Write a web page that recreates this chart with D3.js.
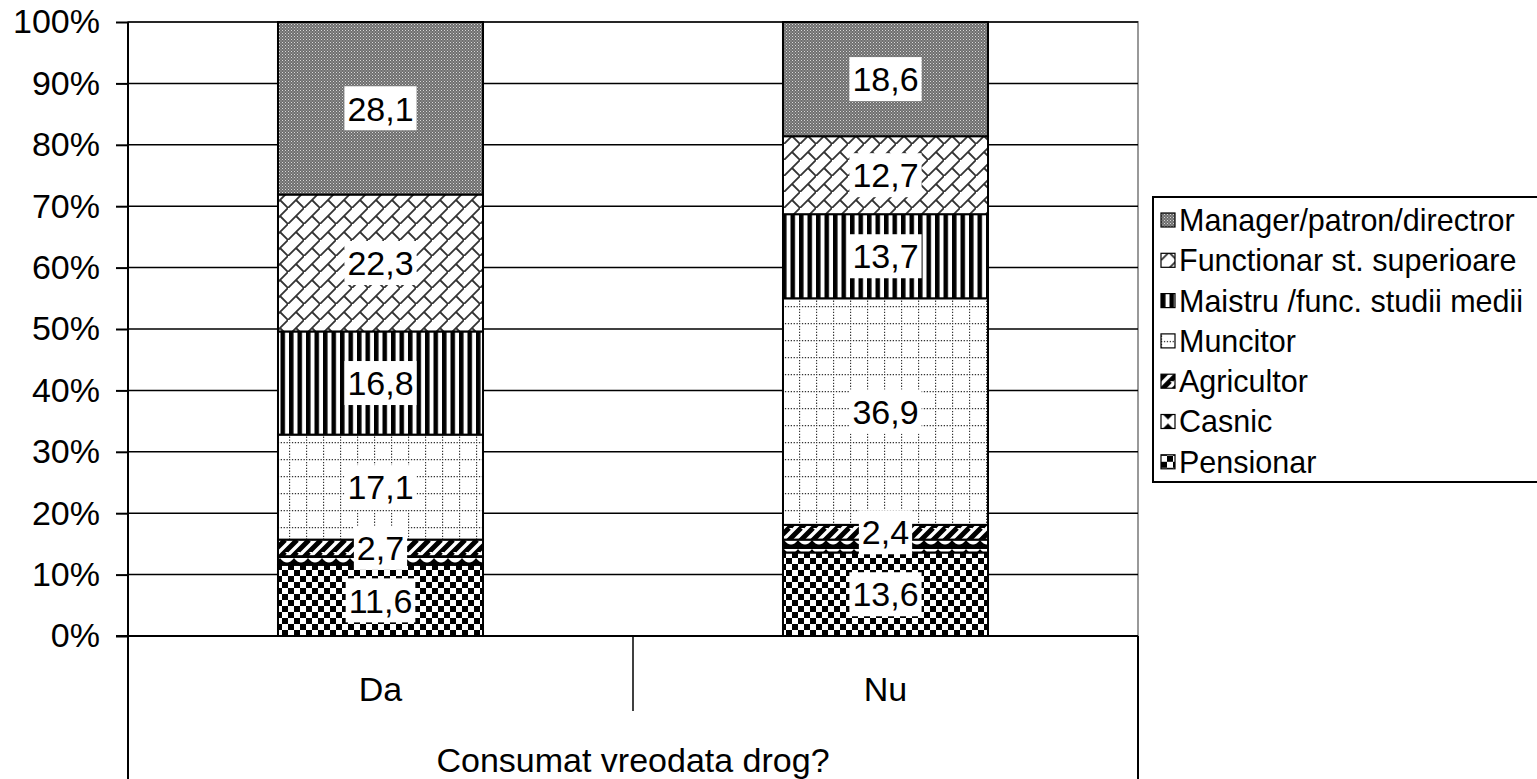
<!DOCTYPE html>
<html>
<head>
<meta charset="utf-8">
<script src="https://cdn.jsdelivr.net/npm/d3@7"></script>
<style>
  body { margin: 0; background: #fff; }
  text { font-family: "Liberation Sans", Arial, sans-serif; fill: #000; }
</style>
</head>
<body>
<svg width="1537" height="779"></svg>
<script>
// data
var categories = ["Da", "Nu"];
var seriesNames = ["Pensionar", "Casnic", "Agricultor", "Muncitor",
  "Maistru /func. studii medii", "Functionar st. superioare", "Manager/patron/directror"];
var pensionar = [11.6, 13.6];
var casnic = [1.4, 2.1];
var agricultor = [2.7, 2.4];
var muncitor = [17.1, 36.9];
var maistru = [16.8, 13.7];
var functionar = [22.3, 12.7];
var manager = [28.1, 18.6];
var yTicks = [0, 10, 20, 30, 40, 50, 60, 70, 80, 90, 100];
var axisTitle = "Consumat vreodata drog?";

var seriesValues = [pensionar, casnic, agricultor, muncitor, maistru, functionar, manager];
var showLabel = [true, false, true, true, true, true, true];

var rows = categories.map(function(c, i) {
  var r = {cat: c};
  seriesNames.forEach(function(s, j) { r[s] = seriesValues[j][i]; });
  return r;
});

var svg = d3.select("svg"),
    plot = {left: 128, right: 1138, top: 22, bottom: 636};

var x = d3.scaleBand().domain(categories)
    .range([plot.left, plot.right]).paddingInner(0.594).paddingOuter(0.297);
var y = d3.scaleLinear().domain([0, 100]).range([plot.bottom, plot.top]);

var stacked = d3.stack().keys(seriesNames)(rows);

// patterns
var defs = svg.append("defs");
function pat(id, w, h) {
  return defs.append("pattern").attr("id", id).attr("patternUnits", "userSpaceOnUse")
    .attr("width", w).attr("height", h);
}
// Pensionar - checkerboard
var p0 = pat("p0", 12, 12);
p0.append("rect").attr("width", 12).attr("height", 12).attr("fill", "#fff");
p0.append("rect").attr("width", 6).attr("height", 6).attr("fill", "#000");
p0.append("rect").attr("x", 6).attr("y", 6).attr("width", 6).attr("height", 6).attr("fill", "#000");
// Casnic - diamonds / waves
var p1 = pat("p1", 14, 9);
p1.append("rect").attr("width", 14).attr("height", 9).attr("fill", "#000");
p1.append("path").attr("d", "M0,0Q7,9 14,0Z").attr("fill", "#fff");
// Agricultor - wide diagonal stripes
var p2 = pat("p2", 12, 12);
p2.append("rect").attr("width", 12).attr("height", 12).attr("fill", "#fff");
p2.append("path").attr("d", "M-3,12L9,0M3,18L15,6M-9,6L3,-6").attr("stroke", "#000").attr("stroke-width", 5);
// Muncitor - dotted grid
var p3 = pat("p3", 17, 17);
p3.append("rect").attr("width", 17).attr("height", 17).attr("fill", "#fff");
p3.append("path").attr("d", "M0,0.5H17M0.5,0V17").attr("stroke", "#333")
  .attr("stroke-width", 1.3).attr("stroke-dasharray", "1.3,1.6");
// Maistru - vertical stripes
var p4 = pat("p4", 8.5, 8);
p4.append("rect").attr("width", 8.5).attr("height", 8).attr("fill", "#fff");
p4.append("rect").attr("width", 4.5).attr("height", 8).attr("fill", "#000");
// Functionar - shingle / weave
var p5 = pat("p5", 16, 16);
p5.append("rect").attr("width", 16).attr("height", 16).attr("fill", "#fff");
p5.append("path").attr("d", "M0,16L16,0M8,8L16,16M-8,8L0,16")
  .attr("stroke", "#333").attr("stroke-width", 1.8).attr("fill", "none");
// Manager - fine grey dither
var p6 = pat("p6", 3, 3);
p6.append("rect").attr("width", 3).attr("height", 3).attr("fill", "#6e6e6e");
p6.append("rect").attr("width", 1).attr("height", 1).attr("fill", "#d8d8d8");
p6.append("rect").attr("x", 1.5).attr("y", 1.5).attr("width", 1).attr("height", 1).attr("fill", "#bcbcbc");
// legend icon for Casnic - diamond
var p1l = pat("p1l", 14, 14);
p1l.append("rect").attr("width", 14).attr("height", 14).attr("fill", "#fff");
p1l.append("path").attr("d", "M7,2L12,7L7,12L2,7Z").attr("fill", "#000");

var fills = ["url(#p0)", "url(#p1)", "url(#p2)", "url(#p3)", "url(#p4)", "url(#p5)", "url(#p6)"];
var legendFills = fills.slice();
legendFills[1] = "url(#p1l)";

// plot border (grey)
svg.append("rect")
    .attr("x", plot.left).attr("y", plot.top)
    .attr("width", plot.right - plot.left).attr("height", plot.bottom - plot.top)
    .attr("fill", "none").attr("stroke", "#999").attr("stroke-width", 2);

// gridlines
svg.append("g").selectAll("line").data(yTicks.slice(1))
  .enter().append("line")
    .attr("x1", plot.left).attr("x2", plot.right)
    .attr("y1", function(d) { return y(d); }).attr("y2", function(d) { return y(d); })
    .attr("stroke", "#000").attr("stroke-width", 1.5);

// y axis
var yAxis = d3.axisLeft(y).tickValues(yTicks).tickSize(12).tickPadding(16)
    .tickFormat(function(d) { return d + "%"; });
var gy = svg.append("g").attr("transform", "translate(" + plot.left + ",0)").call(yAxis);
gy.select(".domain").remove();
gy.selectAll(".tick line").attr("stroke", "#000").attr("stroke-width", 2);
gy.selectAll(".tick text").style("font-size", "34px").style("font-family", "Liberation Sans, Arial, sans-serif");
svg.append("line").attr("x1", plot.left).attr("x2", plot.left)
    .attr("y1", plot.top).attr("y2", 779).attr("stroke", "#000").attr("stroke-width", 2);

// bars
var layer = svg.append("g").selectAll("g").data(stacked).enter().append("g")
    .attr("fill", function(d, i) { return fills[i]; });
layer.selectAll("rect").data(function(d) { return d; }).enter().append("rect")
    .attr("x", function(d) { return x(d.data.cat); })
    .attr("width", x.bandwidth())
    .attr("y", function(d) { return y(d[1]); })
    .attr("height", function(d) { return y(d[0]) - y(d[1]); })
    .attr("stroke", "#000").attr("stroke-width", 2);

// data labels
var lab = svg.append("g");
stacked.forEach(function(s, i) {
  if (!showLabel[i]) return;
  s.forEach(function(d) {
    var cx = x(d.data.cat) + x.bandwidth() / 2,
        cy = (y(d[0]) + y(d[1])) / 2;
    var t = String(d.data[s.key]).replace(".", ",");
    var g = lab.append("g");
    var txt = g.append("text").attr("x", cx).attr("y", cy).attr("dy", "0.36em")
        .attr("text-anchor", "middle").style("font-size", "34px").text(t);
    var bb = txt.node().getBBox();
    g.insert("rect", "text")
        .attr("x", bb.x - 3).attr("y", cy - 22)
        .attr("width", bb.width + 6).attr("height", 44).attr("fill", "#fff");
  });
});

// category axis area
svg.append("line").attr("x1", 116).attr("x2", plot.right)
    .attr("y1", plot.bottom).attr("y2", plot.bottom).attr("stroke", "#000").attr("stroke-width", 2);
svg.append("line").attr("x1", plot.right).attr("x2", plot.right)
    .attr("y1", plot.bottom).attr("y2", 779).attr("stroke", "#000").attr("stroke-width", 2);
svg.append("g").selectAll("line").data(categories.slice(1)).enter().append("line")
    .attr("x1", function(d) { return x(d) - x.step() * x.paddingInner() / 2; })
    .attr("x2", function(d) { return x(d) - x.step() * x.paddingInner() / 2; })
    .attr("y1", plot.bottom).attr("y2", 711).attr("stroke", "#000").attr("stroke-width", 1.5);
svg.append("g").selectAll("text").data(categories).enter().append("text")
    .attr("x", function(d) { return x(d) + x.bandwidth() / 2; })
    .attr("y", 689).attr("dy", "0.36em").attr("text-anchor", "middle")
    .style("font-size", "34px").text(function(d) { return d; });
svg.append("text").attr("x", (plot.left + plot.right) / 2).attr("y", 760).attr("dy", "0.36em")
    .attr("text-anchor", "middle").style("font-size", "34px").text(axisTitle);

// legend
var legend = svg.append("g");
legend.append("rect").attr("x", 1153).attr("y", 197).attr("width", 400).attr("height", 285)
    .attr("fill", "#fff").attr("stroke", "#000").attr("stroke-width", 2);
var order = d3.range(seriesNames.length).reverse();
var li = legend.selectAll("g.item").data(order).enter().append("g").attr("class", "item")
    .attr("transform", function(d, k) { return "translate(1161," + (220 + k * 40.3) + ")"; });
li.append("rect").attr("x", 0).attr("y", -7).attr("width", 14).attr("height", 14)
    .attr("fill", function(d) { return legendFills[d]; }).attr("stroke", "#000").attr("stroke-width", 1.2);
li.append("text").attr("x", 18).attr("dy", "0.36em").style("font-size", "30.5px")
    .text(function(d) { return seriesNames[d]; });
</script>
</body>
</html>
